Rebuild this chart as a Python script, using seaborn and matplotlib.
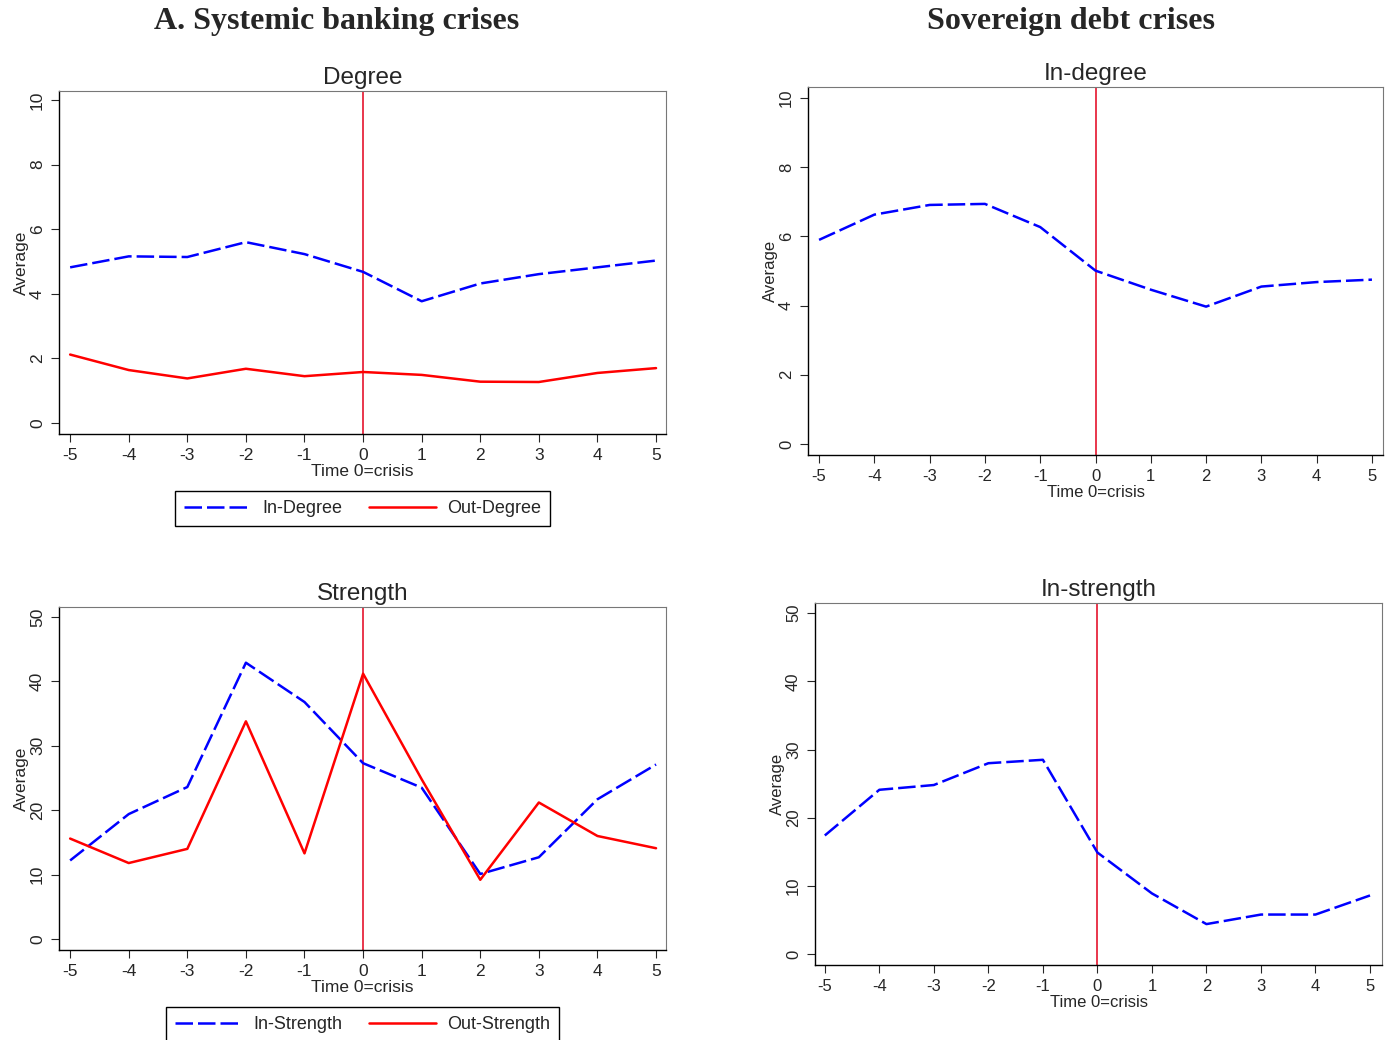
import numpy as np
import matplotlib
matplotlib.use("Agg")
import matplotlib.pyplot as plt
import pandas as pd
import seaborn as sns

# event time around crisis
years = [-5, -4, -3, -2, -1, 0, 1, 2, 3, 4, 5]

# banking crises
in_degree_bank = [4.82, 5.16, 5.14, 5.60, 5.23, 4.68, 3.77, 4.32, 4.61, 4.82, 5.03]
out_degree_bank = [2.12, 1.64, 1.38, 1.68, 1.45, 1.58, 1.49, 1.28, 1.27, 1.55, 1.70]
in_strength_bank = [12.2, 19.4, 23.6, 42.9, 36.8, 27.3, 23.5, 10.1, 12.7, 21.7, 27.1]
out_strength_bank = [15.6, 11.8, 14.0, 33.8, 13.3, 41.2, 24.8, 9.2, 21.2, 16.0, 14.1]

# sovereign debt crises
in_degree_sov = [5.90, 6.63, 6.91, 6.94, 6.27, 5.01, 4.46, 3.97, 4.55, 4.68, 4.75]
in_strength_sov = [17.4, 24.1, 24.8, 28.0, 28.5, 14.9, 8.9, 4.4, 5.8, 5.8, 8.6]

sns.set_style("ticks")
plt.rcParams['font.family'] = ['Liberation Sans', 'DejaVu Sans']

W, H = 1393, 1040
fig = plt.figure(figsize=(W / 100, H / 100), dpi=100)
DASH = (7, 2)


def box(l, t, r, b):
    return [l / W, 1 - b / H, (r - l) / W, (b - t) / H]


def style_axes(ax, title, ymax, ylim, xlim, fs=12.5):
    ax.axvline(0, color="#e3001b", lw=1.1, zorder=1)
    ax.set_xlim(*xlim)
    ax.set_ylim(*ylim)
    ax.set_xticks(years)
    ax.set_yticks(np.linspace(0, ymax, 6))
    ax.set_xticklabels([str(y) for y in years], fontsize=fs)
    ax.set_yticklabels([f"{v:g}" for v in np.linspace(0, ymax, 6)],
                       fontsize=fs, rotation=90, va="center")
    ax.set_title(title, fontsize=17.5, pad=5)
    ax.set_xlabel("Time 0=crisis", fontsize=fs, labelpad=1)
    ax.set_ylabel("Average", fontsize=fs, labelpad=1)
    for s in ["top", "right"]:
        ax.spines[s].set_visible(True)
        ax.spines[s].set_color("#777777")
    for s in ["left", "bottom"]:
        ax.spines[s].set_color("black")
        ax.spines[s].set_linewidth(1.0)
    ax.tick_params(direction="out", length=6, width=0.8, pad=4)


def two_lines(ax, vals_in, vals_out, lab_in, lab_out):
    df = pd.DataFrame({
        "t": years * 2,
        "value": vals_in + vals_out,
        "series": [lab_in] * 11 + [lab_out] * 11,
    })
    sns.lineplot(data=df, x="t", y="value", hue="series", style="series",
                 palette={lab_in: "blue", lab_out: "red"},
                 dashes={lab_in: DASH, lab_out: ""},
                 linewidth=1.8, ax=ax, zorder=3)
    leg = ax.legend(loc="upper center", bbox_to_anchor=(0.5, -0.166), ncol=2,
                    fontsize=13, frameon=True, fancybox=False,
                    edgecolor="black", framealpha=1, handlelength=3.7,
                    columnspacing=1.5, borderpad=0.5, borderaxespad=0,
                    handletextpad=0.6)
    leg.get_frame().set_linewidth(1.0)


def one_line(ax, vals):
    df = pd.DataFrame({"t": years, "value": vals})
    sns.lineplot(data=df, x="t", y="value", color="blue", linewidth=1.8,
                 ax=ax, zorder=3)
    ax.lines[-1].set_dashes(DASH)


# A. banking - degree
ax1 = fig.add_axes(box(59, 91, 666, 434))
two_lines(ax1, in_degree_bank, out_degree_bank, "In-Degree", "Out-Degree")
style_axes(ax1, "Degree", 10, (-0.34, 10.28), (-5.19, 5.17))

# A. banking - strength
ax3 = fig.add_axes(box(59, 607, 666, 950))
two_lines(ax3, in_strength_bank, out_strength_bank, "In-Strength", "Out-Strength")
style_axes(ax3, "Strength", 50, (-1.7, 51.55), (-5.19, 5.17))

# sovereign - in-degree
ax2 = fig.add_axes(box(808, 87, 1383, 455))
one_line(ax2, in_degree_sov)
style_axes(ax2, "In-degree", 10, (-0.32, 10.32), (-5.2, 5.2), fs=12)

# sovereign - in-strength
ax4 = fig.add_axes(box(815, 603, 1382, 965))
one_line(ax4, in_strength_sov)
style_axes(ax4, "In-strength", 50, (-1.6, 51.5), (-5.18, 5.22), fs=12)

fig.text(337 / W, 1 - 21 / H, "A. Systemic banking crises", ha="center",
         va="center", fontsize=23, fontweight="bold",
         family=["Liberation Serif", "DejaVu Serif"])
fig.text(1071 / W, 1 - 21 / H, "Sovereign debt crises", ha="center",
         va="center", fontsize=23, fontweight="bold",
         family=["Liberation Serif", "DejaVu Serif"])

plt.savefig("out.png", dpi=100)
